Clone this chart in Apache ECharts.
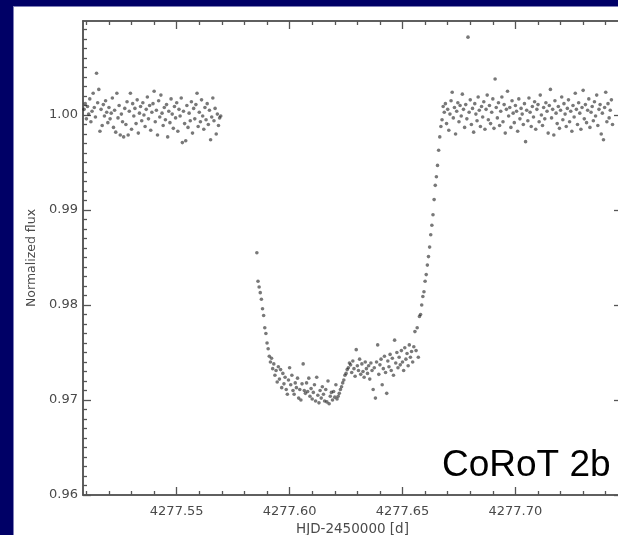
<!DOCTYPE html>
<html>
<head>
<meta charset="utf-8">
<script src="https://cdn.jsdelivr.net/npm/echarts@6/dist/echarts.min.js"></script>
<style>
html, body { margin: 0; padding: 0; width: 618px; height: 535px; overflow: hidden; background: #000066; }
#panel { position: absolute; left: 13px; top: 6px; right: 0; bottom: 0; background: #fff; border-left: 1px solid #8080b8; border-top: 1px solid #8080b8; }
#chart { position: absolute; left: 0; top: 0; width: 618px; height: 535px; }
</style>
</head>
<body>
<div id="panel"></div>
<div id="chart"></div>
<script>
// light curve, HJD-2450000 vs normalized flux
const preTime = [
  4277.5090,4277.5095,4277.5100,4277.5105,4277.5110,4277.5115,4277.5120,4277.5125,4277.5130,4277.5135,
  4277.5140,4277.5145,4277.5150,4277.5155,4277.5160,4277.5165,4277.5170,4277.5175,4277.5180,4277.5185,
  4277.5190,4277.5195,4277.5200,4277.5205,4277.5210,4277.5215,4277.5220,4277.5225,4277.5230,4277.5235,
  4277.5240,4277.5245,4277.5250,4277.5255,4277.5260,4277.5265,4277.5270,4277.5275,4277.5280,4277.5285,
  4277.5290,4277.5295,4277.5300,4277.5305,4277.5310,4277.5315,4277.5320,4277.5325,4277.5330,4277.5335,
  4277.5340,4277.5345,4277.5350,4277.5355,4277.5360,4277.5365,4277.5370,4277.5375,4277.5380,4277.5385,
  4277.5390,4277.5395,4277.5400,4277.5405,4277.5410,4277.5415,4277.5420,4277.5425,4277.5430,4277.5435,
  4277.5440,4277.5445,4277.5450,4277.5455,4277.5460,4277.5465,4277.5470,4277.5475,4277.5480,4277.5485,
  4277.5490,4277.5495,4277.5500,4277.5505,4277.5510,4277.5515,4277.5520,4277.5525,4277.5530,4277.5535,
  4277.5540,4277.5545,4277.5550,4277.5555,4277.5560,4277.5565,4277.5570,4277.5575,4277.5580,4277.5585,
  4277.5590,4277.5595,4277.5600,4277.5605,4277.5610,4277.5615,4277.5620,4277.5625,4277.5630,4277.5635,
  4277.5640,4277.5645,4277.5650,4277.5655,4277.5660,4277.5665,4277.5670,4277.5675,4277.5680,4277.5685,
  4277.5690,4277.5695
];
const preFlux = [
  1.0006,1.0012,0.9996,1.0009,1.0001,1.0017,0.9993,1.0004,1.0023,1.0008,
  0.9998,1.0044,1.0013,1.0027,0.9983,1.0006,0.9989,1.0011,0.9999,1.0015,
  1.0003,0.9992,1.0008,0.9996,1.0002,1.0018,0.9987,1.0005,0.9982,1.0023,
  0.9997,1.0010,0.9979,1.0001,0.9993,0.9977,1.0007,0.9990,1.0014,0.9979,
  1.0004,1.0023,0.9985,1.0012,0.9999,1.0007,0.9991,1.0016,0.9981,1.0002,
  1.0009,0.9994,1.0013,1.0000,0.9988,1.0006,1.0019,0.9996,1.0010,0.9984,
  1.0003,1.0012,1.0025,0.9993,1.0005,0.9979,1.0015,0.9998,1.0021,1.0002,
  0.9989,1.0008,0.9995,1.0011,0.9977,1.0004,0.9992,1.0017,1.0001,0.9986,
  1.0009,0.9997,1.0013,0.9983,1.0006,0.9999,1.0018,0.9971,1.0004,0.9991,
  0.9973,1.0010,0.9987,1.0002,0.9994,1.0014,0.9981,1.0007,0.9996,1.0011,
  1.0023,0.9988,1.0003,0.9993,1.0016,0.9999,0.9985,1.0008,0.9995,1.0012,
  0.9990,1.0005,0.9974,0.9998,1.0018,0.9994,1.0007,0.9980,1.0001,0.9989,
  0.9997,0.9999
];

const transitTime = [
  4277.5855,4277.5860,4277.5865,4277.5870,4277.5875,4277.5880,4277.5885,4277.5890,4277.5895,4277.5900,
  4277.5905,4277.5910,4277.5915,4277.5920,4277.5925,4277.5930,4277.5935,4277.5940,4277.5945,4277.5950,
  4277.5955,4277.5960,4277.5965,4277.5970,4277.5975,4277.5980,4277.5985,4277.5990,4277.5995,4277.6000,
  4277.6005,4277.6010,4277.6015,4277.6020,4277.6025,4277.6030,4277.6035,4277.6040,4277.6045,4277.6050,
  4277.6055,4277.6060,4277.6065,4277.6070,4277.6075,4277.6080,4277.6085,4277.6090,4277.6095,4277.6100,
  4277.6105,4277.6110,4277.6115,4277.6120,4277.6125,4277.6130,4277.6135,4277.6140,4277.6145,4277.6150,
  4277.6155,4277.6160,4277.6165,4277.6170,4277.6175,4277.6180,4277.6185,4277.6190,4277.6195,4277.6200,
  4277.6205,4277.6210,4277.6215,4277.6220,4277.6225,4277.6230,4277.6235,4277.6240,4277.6245,4277.6250,
  4277.6255,4277.6260,4277.6265,4277.6270,4277.6275,4277.6280,4277.6285,4277.6290,4277.6295,4277.6300,
  4277.6305,4277.6310,4277.6315,4277.6320,4277.6325,4277.6330,4277.6335,4277.6340,4277.6345,4277.6350,
  4277.6355,4277.6360,4277.6365,4277.6370,4277.6375,4277.6380,4277.6385,4277.6390,4277.6395,4277.6400,
  4277.6405,4277.6410,4277.6415,4277.6420,4277.6425,4277.6430,4277.6435,4277.6440,4277.6445,4277.6450,
  4277.6455,4277.6460,4277.6465,4277.6470,4277.6475,4277.6480,4277.6485,4277.6490,4277.6495,4277.6500,
  4277.6505,4277.6510,4277.6515,4277.6520,4277.6525,4277.6530,4277.6535,4277.6540,4277.6545,4277.6550,
  4277.6555,4277.6560,4277.6565,4277.6570,4277.6575,4277.6580,4277.6585,4277.6590,4277.6595,4277.6600,
  4277.6605,4277.6610,4277.6615,4277.6620,4277.6625,4277.6630,4277.6635,4277.6640,4277.6645,4277.6650,
  4277.6655,4277.6660,4277.6665,4277.6670
];
const transitFlux = [
  0.9855,0.9825,0.9819,0.9813,0.9806,0.9796,0.9789,0.9776,0.9770,0.9760,
  0.9754,0.9746,0.9740,0.9744,0.9733,0.9738,0.9726,0.9731,0.9719,0.9735,
  0.9722,0.9732,0.9713,0.9728,0.9717,0.9724,0.9711,0.9706,0.9721,0.9734,
  0.9716,0.9726,0.9710,0.9706,0.9718,0.9713,0.9723,0.9702,0.9711,0.9700,
  0.9717,0.9738,0.9710,0.9707,0.9718,0.9709,0.9723,0.9704,0.9712,0.9701,
  0.9708,0.9716,0.9699,0.9724,0.9705,0.9697,0.9710,0.9702,0.9714,0.9706,
  0.9699,0.9711,0.9698,0.9720,0.9696,0.9704,0.9708,0.9700,0.9709,0.9703,
  0.9716,0.9701,0.9704,0.9707,0.9711,0.9714,0.9718,0.9721,0.9726,0.9728,
  0.9732,0.9734,0.9739,0.9737,0.9729,0.9741,0.9733,0.9725,0.9753,0.9736,
  0.9731,0.9743,0.9727,0.9738,0.9730,0.9724,0.9740,0.9733,0.9728,0.9736,
  0.9722,0.9739,0.9731,0.9711,0.9734,0.9702,0.9740,0.9758,0.9727,0.9737,
  0.9743,0.9716,0.9733,0.9746,0.9729,0.9707,0.9741,0.9735,0.9748,0.9731,
  0.9744,0.9726,0.9763,0.9739,0.9750,0.9734,0.9745,0.9737,0.9752,0.9740,
  0.9731,0.9755,0.9743,0.9749,0.9736,0.9758,0.9745,0.9751,0.9740,0.9756,
  0.9772,0.9752,0.9776,0.9745,0.9788,0.9790,0.9800,0.9809,0.9814,0.9825,
  0.9832,0.9842,0.9851,0.9861,0.9874,0.9884,0.9895,0.9911,0.9926,0.9935,
  0.9947,0.9963,0.9977,0.9988
];

const postTime = [
  4277.6675,4277.6680,4277.6685,4277.6690,4277.6695,4277.6700,4277.6705,4277.6710,4277.6715,4277.6720,
  4277.6725,4277.6730,4277.6735,4277.6740,4277.6745,4277.6750,4277.6755,4277.6760,4277.6765,4277.6770,
  4277.6775,4277.6780,4277.6785,4277.6790,4277.6795,4277.6800,4277.6805,4277.6810,4277.6815,4277.6820,
  4277.6825,4277.6830,4277.6835,4277.6840,4277.6845,4277.6850,4277.6855,4277.6860,4277.6865,4277.6870,
  4277.6875,4277.6880,4277.6885,4277.6890,4277.6895,4277.6900,4277.6905,4277.6910,4277.6915,4277.6920,
  4277.6925,4277.6930,4277.6935,4277.6940,4277.6945,4277.6950,4277.6955,4277.6960,4277.6965,4277.6970,
  4277.6975,4277.6980,4277.6985,4277.6990,4277.6995,4277.7000,4277.7005,4277.7010,4277.7015,4277.7020,
  4277.7025,4277.7030,4277.7035,4277.7040,4277.7045,4277.7050,4277.7055,4277.7060,4277.7065,4277.7070,
  4277.7075,4277.7080,4277.7085,4277.7090,4277.7095,4277.7100,4277.7105,4277.7110,4277.7115,4277.7120,
  4277.7125,4277.7130,4277.7135,4277.7140,4277.7145,4277.7150,4277.7155,4277.7160,4277.7165,4277.7170,
  4277.7175,4277.7180,4277.7185,4277.7190,4277.7195,4277.7200,4277.7205,4277.7210,4277.7215,4277.7220,
  4277.7225,4277.7230,4277.7235,4277.7240,4277.7245,4277.7250,4277.7255,4277.7260,4277.7265,4277.7270,
  4277.7275,4277.7280,4277.7285,4277.7290,4277.7295,4277.7300,4277.7305,4277.7310,4277.7315,4277.7320,
  4277.7325,4277.7330,4277.7335,4277.7340,4277.7345,4277.7350,4277.7355,4277.7360,4277.7365,4277.7370,
  4277.7375,4277.7380,4277.7385,4277.7390,4277.7395,4277.7400,4277.7405,4277.7410,4277.7415,4277.7420,
  4277.7425,4277.7430
];
const postFlux = [
  0.9995,1.0009,1.0003,1.0012,0.9991,1.0006,0.9984,1.0001,1.0015,1.0024,
  0.9997,1.0008,0.9980,1.0004,1.0013,0.9993,1.0010,0.9999,1.0022,1.0006,
  0.9987,1.0011,0.9996,1.0082,1.0003,1.0016,0.9990,1.0007,0.9982,1.0012,
  1.0001,0.9994,1.0019,1.0005,0.9988,1.0009,0.9998,1.0014,0.9985,1.0006,
  1.0021,0.9995,1.0010,0.9991,1.0003,1.0017,0.9986,1.0038,1.0008,0.9997,
  1.0013,0.9989,1.0004,1.0019,0.9993,1.0011,0.9981,1.0006,1.0025,0.9999,
  1.0008,0.9987,1.0015,1.0002,0.9992,1.0010,1.0004,0.9983,1.0017,0.9996,
  1.0007,1.0001,0.9990,1.0012,0.9972,1.0005,0.9994,1.0018,1.0003,0.9988,
  1.0009,0.9998,1.0014,0.9985,1.0006,1.0011,0.9993,1.0021,1.0000,0.9989,
  1.0008,0.9996,1.0013,1.0004,0.9981,1.0010,1.0027,0.9997,1.0006,0.9979,
  1.0015,1.0002,0.9991,1.0009,0.9986,1.0005,1.0019,0.9995,1.0012,1.0001,
  0.9988,1.0007,1.0016,0.9993,1.0004,0.9983,1.0010,0.9998,1.0023,1.0006,
  0.9990,1.0013,1.0002,0.9985,1.0008,1.0026,0.9996,1.0011,0.9992,1.0005,
  1.0017,0.9987,1.0003,1.0009,0.9994,1.0014,0.9999,1.0021,0.9989,1.0006,
  1.0011,0.9980,1.0002,0.9974,1.0008,1.0024,0.9993,1.0012,0.9997,1.0005,
  1.0016,0.9990
];

// axes
const xMin = 4277.5085, xMax = 4277.7472;
const yMin = 0.96, yMax = 1.0099;
const xMajor = [4277.55, 4277.60, 4277.65, 4277.70];
const yMajor = [0.96, 0.97, 0.98, 0.99, 1.00];

let xMinor = [];
for (let i = 51; i <= 74; i++) {
    if (i % 5) xMinor.push(+(4277 + i / 100).toFixed(2));
}
let yMinor = [];
for (let i = 961; i <= 1009; i++) {
    if (i % 10) yMinor.push(i / 1000);
}

const axisColor = '#555';
const textColor = '#4a4a4a';
const fontFamily = 'DejaVu Sans';

function zip(t, f) {
    let out = [];
    for (let i = 0; i < t.length; i++) out.push([t[i], f[i]]);
    return out;
}

function axis(kind, pos, ticks, len, extra) {
    let a = {
        type: 'value',
        position: pos,
        min: kind === 'x' ? xMin : yMin,
        max: kind === 'x' ? xMax : yMax,
        axisLine: {show: true, onZero: false, lineStyle: {color: axisColor, width: 1.5}},
        axisTick: {show: true, inside: true, length: len, customValues: ticks,
                   lineStyle: {color: axisColor, width: 1.3}},
        axisLabel: {show: false},
        splitLine: {show: false}
    };
    return Object.assign(a, extra || {});
}

const chart = echarts.init(document.getElementById('chart'), null, {renderer: 'canvas'});

const dotStyle = {color: 'rgba(20,20,20,0.72)'};

chart.setOption({
    animation: false,
    // outerBoundsMode none: keep the grid exactly where it is put (v6 shrinks it otherwise)
    grid: {left: 83, top: 21, width: 539, height: 474, containLabel: false, outerBoundsMode: 'none'},
    xAxis: [
        axis('x', 'bottom', xMajor, 8, {
            name: 'HJD-2450000 [d]',
            nameLocation: 'middle',
            nameGap: 26,
            nameTextStyle: {color: textColor, fontSize: 13.5, fontFamily: fontFamily},
            axisLabel: {show: true, customValues: xMajor, margin: 10, color: textColor,
                        fontSize: 13, fontFamily: fontFamily,
                        formatter: v => v.toFixed(2)}
        }),
        axis('x', 'bottom', xMinor, 4),
        axis('x', 'top', xMajor, 8),
        axis('x', 'top', xMinor, 4)
    ],
    yAxis: [
        axis('y', 'left', yMajor, 8, {
            name: 'Normalized flux',
            nameLocation: 'middle',
            nameGap: 45,
            nameTextStyle: {color: textColor, fontSize: 12.5, fontFamily: fontFamily},
            axisLabel: {show: true, customValues: yMajor, margin: 5, color: textColor,
                        fontSize: 13, fontFamily: fontFamily,
                        formatter: v => v.toFixed(2)}
        }),
        axis('y', 'left', yMinor, 4),
        axis('y', 'right', yMajor, 8),
        axis('y', 'right', yMinor, 4)
    ],
    series: [
        {type: 'scatter', name: 'before', data: zip(preTime, preFlux), symbolSize: 3.6, itemStyle: dotStyle},
        {type: 'scatter', name: 'transit', data: zip(transitTime, transitFlux), symbolSize: 3.6, itemStyle: dotStyle},
        {type: 'scatter', name: 'after', data: zip(postTime, postFlux), symbolSize: 3.6, itemStyle: dotStyle}
    ],
    graphic: [{
        type: 'text',
        x: 442,
        y: 466,
        style: {
            text: 'CoRoT 2b',
            font: '37px "Liberation Sans", Arial, sans-serif',
            fill: '#000',
            textVerticalAlign: 'middle',
            verticalAlign: 'middle'
        }
    }]
});
</script>
</body>
</html>
